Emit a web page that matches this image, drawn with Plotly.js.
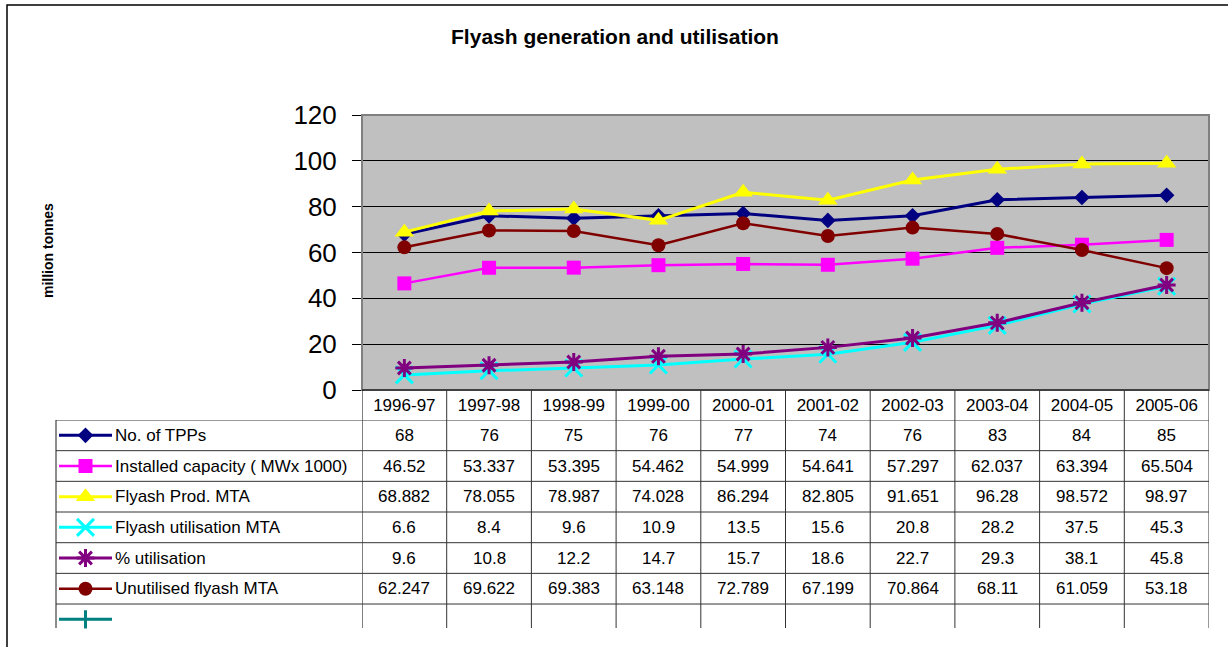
<!DOCTYPE html>
<html>
<head>
<meta charset="utf-8">
<script src="https://cdn.plot.ly/plotly-3.0.1.min.js"></script>
<style>html,body{margin:0;padding:0;background:#fff;}#chart{width:1228px;height:647px;}</style>
</head>
<body>
<div id="chart"></div>
<script>
// ---- data ----
const years = ["1996-97","1997-98","1998-99","1999-00","2000-01","2001-02","2002-03","2003-04","2004-05","2005-06"];
const tpps = [68, 76, 75, 76, 77, 74, 76, 83, 84, 85];
const installedCapacity = [46.52, 53.337, 53.395, 54.462, 54.999, 54.641, 57.297, 62.037, 63.394, 65.504];
const flyashProd = [68.882, 78.055, 78.987, 74.028, 86.294, 82.805, 91.651, 96.28, 98.572, 98.97];
const flyashUtil = [6.6, 8.4, 9.6, 10.9, 13.5, 15.6, 20.8, 28.2, 37.5, 45.3];
const pctUtil = [9.6, 10.8, 12.2, 14.7, 15.7, 18.6, 22.7, 29.3, 38.1, 45.8];
const unutilised = [62.247, 69.622, 69.383, 63.148, 72.789, 67.199, 70.864, 68.11, 61.059, 53.18];
const seriesNames = ["No. of TPPs","Installed capacity ( MWx 1000)","Flyash Prod. MTA","Flyash utilisation MTA","% utilisation","Unutilised flyash MTA",""];
const yTicks = [0, 20, 40, 60, 80, 100, 120];

// ---- styles ----
const W = 1228, H = 647;
const px = x => x / W;
const py = y => 1 - y / H;
const FONT = "Arial, 'Liberation Sans', sans-serif";
const TFS = 17;

const styles = [
  {color:"#000080", width:3,   marker:{symbol:"diamond", size:12, color:"#000080"}},
  {color:"#FF00FF", width:2.5, marker:{symbol:"square", size:14, color:"#FF00FF"}},
  {color:"#FFFF00", width:3,   marker:{symbol:"triangle-up", size:17, color:"#FFFF00"}},
  {color:"#00FFFF", width:3,   marker:{symbol:"x-thin", size:17, color:"#00FFFF", line:{color:"#00FFFF", width:3}}},
  {color:"#800080", width:3,   marker:{symbol:"asterisk", size:15, color:"#800080", line:{color:"#800080", width:3}}},
  {color:"#800000", width:2.5, marker:{symbol:"circle", size:14, color:"#800000"}},
  {color:"#008080", width:3,   marker:{symbol:"line-ns", size:13, color:"#008080", line:{color:"#008080", width:3}}}
];
const seriesData = [tpps, installedCapacity, flyashProd, flyashUtil, pctUtil, unutilised, []];

const traces = [];
seriesData.forEach((vals, i) => {
  if (vals.length) {
    traces.push({
      type:"scatter", mode:"lines+markers", x: years, y: vals,
      xaxis:"x", yaxis:"y", name: seriesNames[i], showlegend:false, hoverinfo:"skip",
      line:{color: styles[i].color, width: styles[i].width},
      marker: styles[i].marker, cliponaxis:false
    });
  }
});
// legend keys inside data table
seriesData.forEach((vals, i) => {
  traces.push({
    type:"scatter", mode:"lines+markers", x:[0, 0.5, 1], y:[i, i, i],
    xaxis:"x2", yaxis:"y2", showlegend:false, hoverinfo:"skip",
    line:{color: styles[i].color, width: styles[i].width},
    marker: Object.assign({}, styles[i].marker, {opacity:[0, 1, 0]}), cliponaxis:false
  });
});

const annotations = [];
seriesNames.forEach((name, i) => {
  if (name) annotations.push({xref:"paper", yref:"y2", x:px(113), y:i, xanchor:"left", yanchor:"middle",
    text:name, showarrow:false, font:{family:FONT, size:TFS, color:"#000"}});
});
seriesData.forEach((vals, i) => {
  vals.forEach((v, j) => {
    annotations.push({xref:"x", yref:"y2", x: years[j], y: i, xanchor:"center", yanchor:"middle",
      text: String(v), showarrow:false, font:{family:FONT, size:TFS, color:"#000"}});
  });
});
annotations.push({xref:"paper", yref:"paper", x:px(48), y:py(250), xanchor:"center", yanchor:"middle", textangle:-90,
  text:"<b>million tonnes</b>", showarrow:false, font:{family:FONT, size:14, color:"#000"}});

const shapes = [];
// plot area fill (main subplot only)
shapes.push({type:"rect", xref:"x domain", yref:"y domain", x0:0, x1:1, y0:0, y1:1, fillcolor:"#C0C0C0", line:{width:0}, layer:"below"});
// outer frame
shapes.push({type:"rect", xref:"paper", yref:"paper", x0:px(7), x1:px(1240), y0:py(660), y1:py(5), line:{color:"#000", width:1.5}, layer:"below"});
// plot area border
shapes.push({type:"rect", xref:"paper", yref:"paper", x0:px(362), x1:px(1209), y0:py(390), y1:py(115), line:{color:"#808080", width:2}, layer:"above"});
// bottom axis line
shapes.push({type:"line", xref:"paper", yref:"paper", x0:px(362), x1:px(1209), y0:py(390), y1:py(390), line:{color:"#000", width:1}});
// table vertical lines
for (let k = 0; k <= years.length; k++) {
  shapes.push({type:"line", xref:"x", yref:"paper", x0:k-0.5, x1:k-0.5, y0:py(390), y1:py(628),
    line:{color: (k===0 ? "#000" : "#333"), width:1}});
}
// left border of table
shapes.push({type:"line", xref:"paper", yref:"paper", x0:px(56), x1:px(56), y0:py(420), y1:py(628), line:{color:"#666", width:1.5}});
// table horizontal lines
for (let r = 0; r <= 6; r++) {
  shapes.push({type:"line", xref:"paper", yref:"y2", x0:px(56), x1:px(1209), y0:r-0.5, y1:r-0.5, line:{color:"#333", width:1}});
}

const layout = {
  width:W, height:H,
  margin:{l:0, r:0, t:0, b:0},
  paper_bgcolor:"#fff", plot_bgcolor:"rgba(0,0,0,0)",
  font:{family:FONT, color:"#000"},
  title:{text:"<b>Flyash generation and utilisation</b>", x:px(615), xref:"paper", xanchor:"center",
    y:py(37), yref:"paper", yanchor:"middle", font:{family:FONT, size:21, color:"#000"}},
  xaxis:{domain:[px(362), px(1209)], type:"category", categoryarray:years, range:[-0.5, 9.5],
    showgrid:false, zeroline:false, showline:false, ticks:"", tickfont:{family:FONT, size:TFS, color:"#000"},
    ticklabelstandoff:3, fixedrange:true},
  yaxis:{domain:[py(390), py(115)], range:[0, 120], tickvals:yTicks, showgrid:true, gridcolor:"#000", gridwidth:1,
    zeroline:false, showline:true, linecolor:"#000", linewidth:1, ticks:"outside", ticklen:9, tickcolor:"#000",
    tickfont:{family:FONT, size:26, color:"#000"}, ticklabelstandoff:10, fixedrange:true},
  xaxis2:{domain:[px(59), px(112)], range:[0, 1], visible:false, anchor:"y2", fixedrange:true},
  yaxis2:{domain:[py(634.7), py(420)], range:[6.5, -0.5], visible:false, anchor:"x2", fixedrange:true},
  shapes: shapes,
  annotations: annotations,
  showlegend:false
};

Plotly.newPlot("chart", traces, layout, {staticPlot:true, displayModeBar:false});
</script>
</body>
</html>
